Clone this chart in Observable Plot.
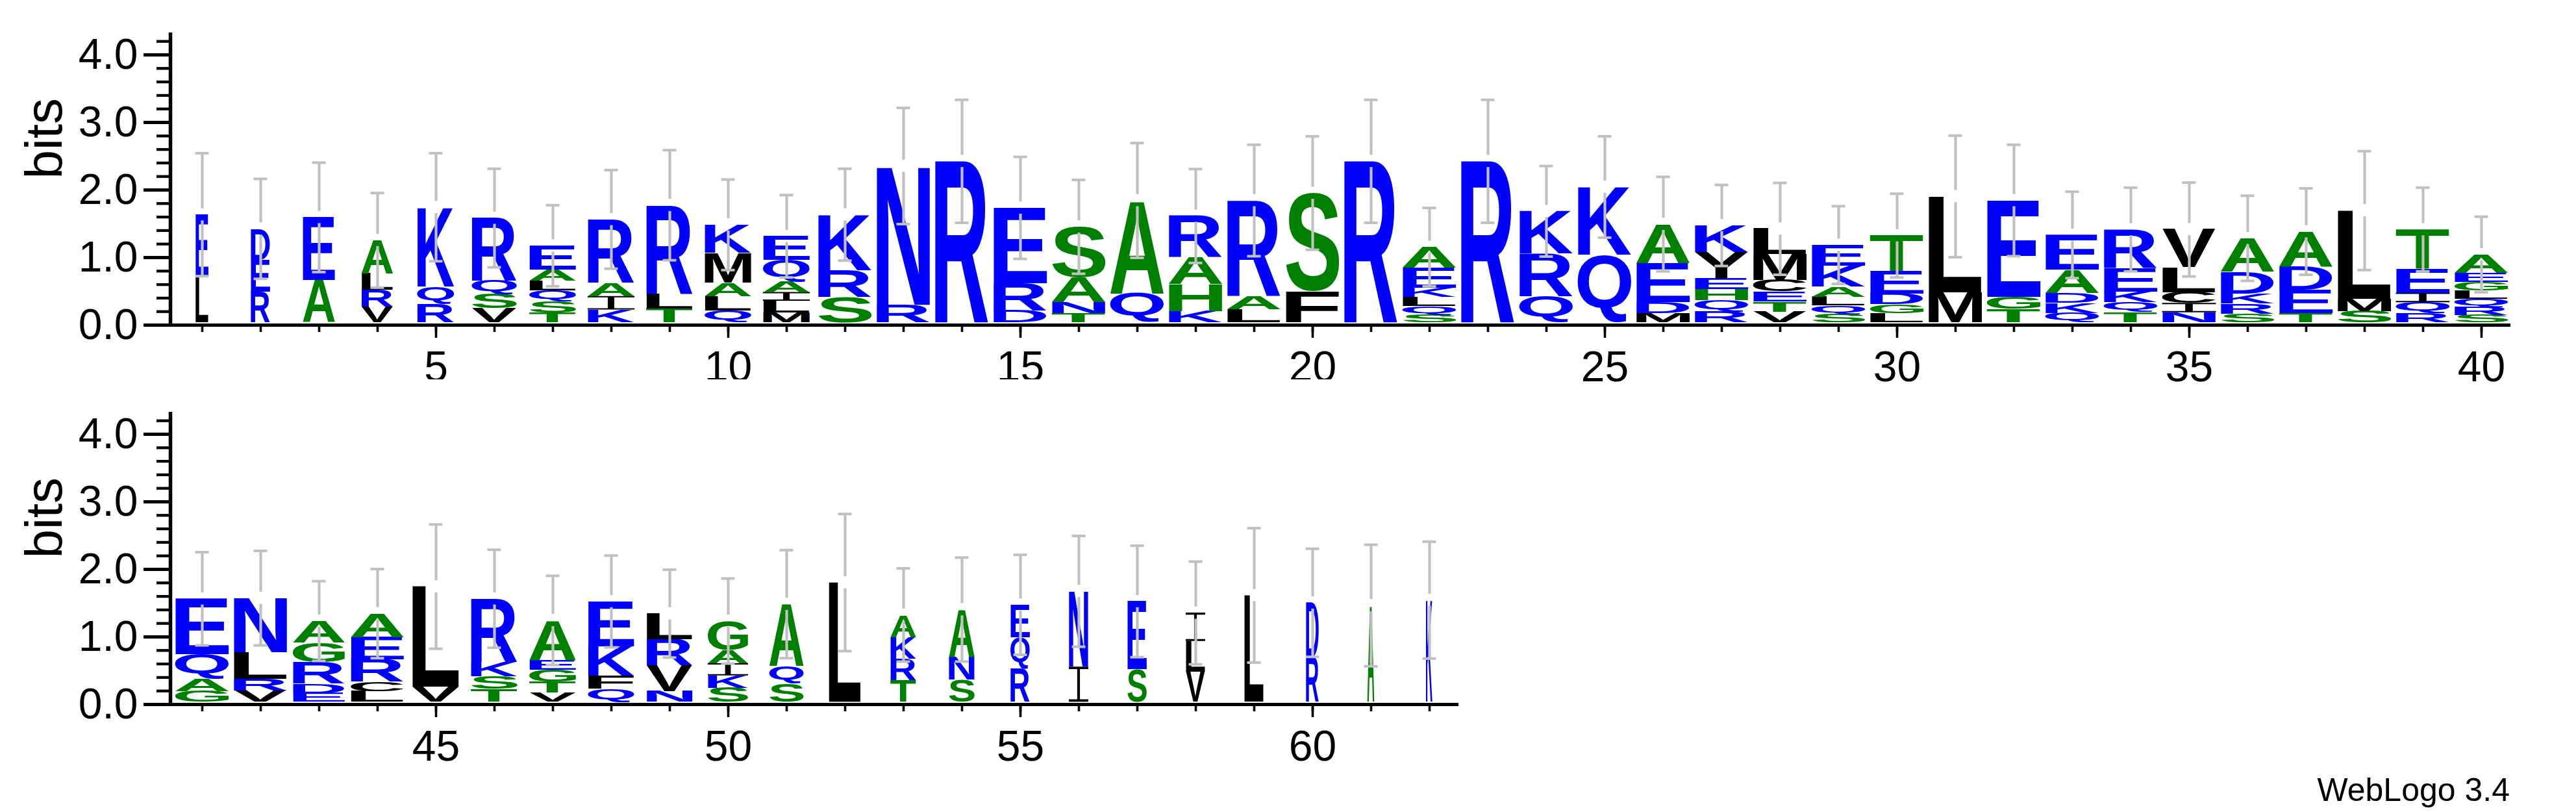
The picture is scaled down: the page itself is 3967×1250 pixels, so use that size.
<!DOCTYPE html>
<html>
<head>
<meta charset="utf-8">
<script src="https://cdn.jsdelivr.net/npm/d3@7"></script>
<script src="https://cdn.jsdelivr.net/npm/@observablehq/plot@0.6"></script>
<style>
  html, body { margin: 0; padding: 0; background: #fff; }
  body { width: 3967px; height: 1250px; position: relative; overflow: hidden;
         font-family: 'Liberation Sans', Arial, Helvetica, sans-serif; }
  #top { position: absolute; left: 0; top: 0; }
  #bottom { position: absolute; left: 0; top: 584px; }
  #caption { position: absolute; right: 102px; top: 1191px; font-size: 50px; line-height: 1; color: #000; }
</style>
</head>
<body>
<div id="top"></div>
<div id="bottom"></div>
<div id="caption">WebLogo 3.4</div>
<script>
// ---------------- data ----------------
const positions = [1,2,3,4,5,6,7,8,9,10,11,12,13,14,15,16,17,18,19,20,
  21,22,23,24,25,26,27,28,29,30,31,32,33,34,35,36,37,38,39,40,
  41,42,43,44,45,46,47,48,49,50,51,52,53,54,55,56,57,58,59,60,61,62];

// letters of each stack, listed top -> bottom
const stackLetters = ["EL","DER","EA","ALRV","KQR","RQSV","EALQST","RAIK","RLT","KMALQ",
  "EQAILM","KRS","NR","R","ERD","SANT","AQ","RAHK","RAL","SF",
  "R","AEKLQS","R","KRQ","KQ","AEDM","KYEHQR","LMCETV","EKALQS","TEDGL",
  "LM","EGT","EADKQ","REKQT","VLCIN","ADKRS","ADET","LMS","TEIQR","AEGLQRS",
  "EQAG","NLRV","AGRDE","AERCL","LV","RKST","AEGTV","EKFQ","LRVN","GAIKS",
  "AQS","L","AKRT","ANS","EQR","NI","ES","ILV","L","DR","A","K"];

// letter heights in bits, same order as the letters
const stackBits = [
  [0.92,0.68],[0.46,0.47,0.46],[0.93,0.63],[0.50,0.24,0.25,0.23],[1.18,0.26,0.27],
  [0.93,0.20,0.21,0.21],[0.36,0.16,0.15,0.16,0.16,0.15],[0.94,0.20,0.20,0.19],[1.31,0.22,0.21],[0.42,0.44,0.20,0.21,0.18],
  [0.35,0.32,0.16,0.13,0.17,0.15],[0.83,0.39,0.38],[2.06,0.26],[2.39],[1.12,0.40,0.18],
  [0.75,0.37,0.16,0.14],[1.38,0.43],[0.61,0.40,0.40,0.17],[1.41,0.20,0.20],[1.46,0.46],
  [2.39],[0.31,0.30,0.13,0.14,0.13,0.11],[2.39],[0.63,0.63,0.39],[1.01,1.00],
  [0.58,0.58,0.16,0.14],[0.40,0.39,0.16,0.16,0.17,0.16],[0.38,0.38,0.17,0.15,0.15,0.16],[0.31,0.31,0.15,0.13,0.13,0.12],[0.53,0.33,0.16,0.13,0.14],
  [1.42,0.45],[1.43,0.18,0.20],[0.52,0.34,0.15,0.15,0.14],[0.57,0.35,0.16,0.15,0.15],[0.56,0.37,0.16,0.14,0.15],
  [0.50,0.32,0.15,0.15,0.13],[0.53,0.34,0.34,0.14],[1.31,0.18,0.17],[0.58,0.36,0.14,0.16,0.14],[0.28,0.13,0.13,0.12,0.12,0.12,0.11],
  [0.82,0.37,0.18,0.16],[0.81,0.39,0.17,0.17],[0.32,0.29,0.32,0.14,0.13],[0.35,0.33,0.33,0.14,0.16],[1.49,0.22],
  [0.94,0.21,0.19,0.19],[0.59,0.15,0.17,0.16,0.14],[0.67,0.43,0.20,0.19],[0.38,0.39,0.38,0.16],[0.43,0.20,0.18,0.18,0.21],
  [0.92,0.26,0.27],[1.77],[0.33,0.32,0.32,0.32],[0.70,0.34,0.33],[0.48,0.47,0.49],
  [1.12,0.52],[1.01,0.48],[0.42,0.45,0.45],[1.58],[0.81,0.66],[1.43],[1.51]];

// relative stack width (fraction of sequences present at the position)
const stackWidths = [0.24,0.36,0.60,0.59,0.69,0.84,0.87,0.87,0.87,0.87,
  0.87,1,1,1,1,1,1,1,1,1, 1,1,1,1,1,1,1,1,1,1, 1,1,1,1,1,1,1,1,1,1,
  1,1,0.97,0.99,0.88,0.87,0.87,0.86,0.86,0.75,
  0.64,0.60,0.48,0.48,0.36,0.36,0.36,0.36,0.36,0.24,0.13,0.12];

// error bar half-length in bits
const errorBits = [0.91,0.74,0.81,0.70,0.80,0.73,0.60,0.73,0.815,0.67,
  0.61,0.68,0.86,0.91,0.755,0.695,0.85,0.695,0.825,0.84,
  0.91,0.58,0.91,0.67,0.75,0.70,0.60,0.68,0.575,0.62,
  0.90,0.825,0.64,0.62,0.695,0.63,0.64,0.88,0.62,0.56,
  0.69,0.70,0.59,0.66,0.92,0.725,0.66,0.68,0.65,0.63,
  0.80,1.015,0.69,0.77,0.74,0.82,0.825,0.76,0.995,0.80,0.90,0.865];

const xMajorTop = [5,10,15,20,25,30,35,40];
const xMajorBottom = [45,50,55,60];
const yMajorTicks = [0,1,2,3,4];
const yMinorTicks = [0,0.2,0.4,0.6,0.8,1,1.2,1.4,1.6,1.8,2,2.2,2.4,2.6,2.8,3,3.2,3.4,3.6,3.8,4,4.2];

// ---------------- styles ----------------
const FONT = "'Liberation Sans', Arial, Helvetica, sans-serif";
const yMax = 4.327;
const letterBase = 0.035;
const barGap = 0.09;
const stackFill = 0.922;
const barColor = "#c0c0c0";
const hydrophilic = "RKDENQ", neutral = "SGHTAP";
const colorOf = ch => hydrophilic.includes(ch) ? "#0000ff" : neutral.includes(ch) ? "#008000" : "#000000";

// table built from the arrays
const table = positions.map((pos, i) => ({
  pos,
  letters: stackLetters[i],
  bits: stackBits[i],
  width: stackWidths[i],
  err: errorBits[i],
  total: letterBase + d3.sum(stackBits[i])
}));

// ---------------- glyph drawing ----------------
const SVGNS = "http://www.w3.org/2000/svg";
const ctx = document.createElement("canvas").getContext("2d");
ctx.font = `bold 100px ${FONT}`;
const boxCache = {};
function glyphBox(ch) {
  if (!boxCache[ch]) {
    const m = ctx.measureText(ch);
    boxCache[ch] = {l: m.actualBoundingBoxLeft, r: m.actualBoundingBoxRight,
                    a: m.actualBoundingBoxAscent, d: m.actualBoundingBoxDescent};
  }
  return boxCache[ch];
}
function drawGlyph(g, ch, x0, y0, w, h, fill) {
  if (h <= 0 || w <= 0) return;
  if (ch === "I") {
    const bar = Math.max(2, 0.07 * h), stem = Math.max(1.5, 0.14 * w), side = (w - stem) / 2;
    const p = document.createElementNS(SVGNS, "path");
    p.setAttribute("d", `M${x0},${y0}h${w}v${bar}h${-side}v${h - 2 * bar}h${side}v${bar}h${-w}v${-bar}h${side}v${-(h - 2 * bar)}h${-side}z`);
    p.setAttribute("fill", fill);
    g.appendChild(p);
    return;
  }
  const b = glyphBox(ch);
  const t = document.createElementNS(SVGNS, "text");
  t.textContent = ch;
  t.setAttribute("font-family", FONT);
  t.setAttribute("font-weight", "bold");
  t.setAttribute("font-size", "100");
  t.setAttribute("text-anchor", "start");
  t.setAttribute("fill", fill);
  const sx = w / (b.l + b.r), sy = h / (b.a + b.d);
  t.setAttribute("transform", `translate(${x0},${y0}) scale(${sx},${sy}) translate(${b.l},${b.a})`);
  g.appendChild(t);
}
function logoMark(rows) {
  return (index, scales) => {
    const x = scales.x, y = scales.y;
    const unit = Math.abs(x(rows[0].pos + 1) - x(rows[0].pos));
    const g = document.createElementNS(SVGNS, "g");
    for (const r of rows) {
      const w = unit * stackFill * r.width;
      const x0 = x(r.pos) - w / 2;
      let cum = letterBase;
      for (let k = r.letters.length - 1; k >= 0; --k) {
        const ch = r.letters[k], hb = r.bits[k];
        const yTop = y(cum + hb), yBot = y(cum);
        drawGlyph(g, ch, x0, yTop, w, yBot - yTop, colorOf(ch));
        cum += hb;
      }
    }
    return g;
  };
}

function panel(rows, domain, width, xMajor) {
  const xMinor = rows.map(d => d.pos);
  return Plot.plot({
    width, height: 584,
    marginLeft: 262, marginRight: 34, marginTop: 50, marginBottom: 84,
    x: {domain, insetLeft: 4},
    y: {domain: [0, yMax]},
    style: {fontFamily: FONT, fontSize: "66px", background: "white", color: "black", overflow: "visible"},
    marks: [
      logoMark(rows),
      Plot.ruleX(rows, {x: "pos", y1: d => d.total + barGap, y2: d => d.total + d.err, stroke: barColor, strokeWidth: 4.2}),
      Plot.ruleX(rows, {x: "pos", y1: d => d.total - d.err, y2: d => d.total - barGap, stroke: barColor, strokeWidth: 4.2}),
      Plot.ruleY(rows, {x1: "pos", x2: "pos", y: d => d.total + d.err, insetLeft: -10.5, insetRight: -10.5, stroke: barColor, strokeWidth: 4}),
      Plot.ruleY(rows, {x1: "pos", x2: "pos", y: d => d.total - d.err, insetLeft: -10.5, insetRight: -10.5, stroke: barColor, strokeWidth: 4}),
      Plot.ruleY([0], {stroke: "black", strokeWidth: 5}),
      Plot.ruleX([domain[0]], {dx: -4, stroke: "black", strokeWidth: 5.5}),
      Plot.axisY({ticks: yMajorTicks, tickSize: 41, tickPadding: 9, strokeWidth: 5, fontSize: 66,
                  tickFormat: d => d.toFixed(1), label: null}),
      Plot.axisY({ticks: yMinorTicks, tickSize: 21, strokeWidth: 4.3, tickFormat: () => "", label: null}),
      Plot.axisX({ticks: xMinor, tickSize: 11, strokeWidth: 3.6, tickFormat: () => "", label: null}),
      Plot.axisX({ticks: xMajor, tickSize: 20, tickPadding: 20, strokeWidth: 3.6, fontSize: 66,
                  tickFormat: d => String(d), label: null}),
      Plot.text(["bits"], {text: d => d, frameAnchor: "left", rotate: -90, dx: -193, fontSize: 80})
    ]
  });
}

document.getElementById("top").appendChild(
  panel(table.filter(d => d.pos <= 40), [0.5, 40.5], 3900, xMajorTop));
document.getElementById("bottom").appendChild(
  panel(table.filter(d => d.pos > 40), [40.5, 62.5], 2280, xMajorBottom));
</script>
</body>
</html>
